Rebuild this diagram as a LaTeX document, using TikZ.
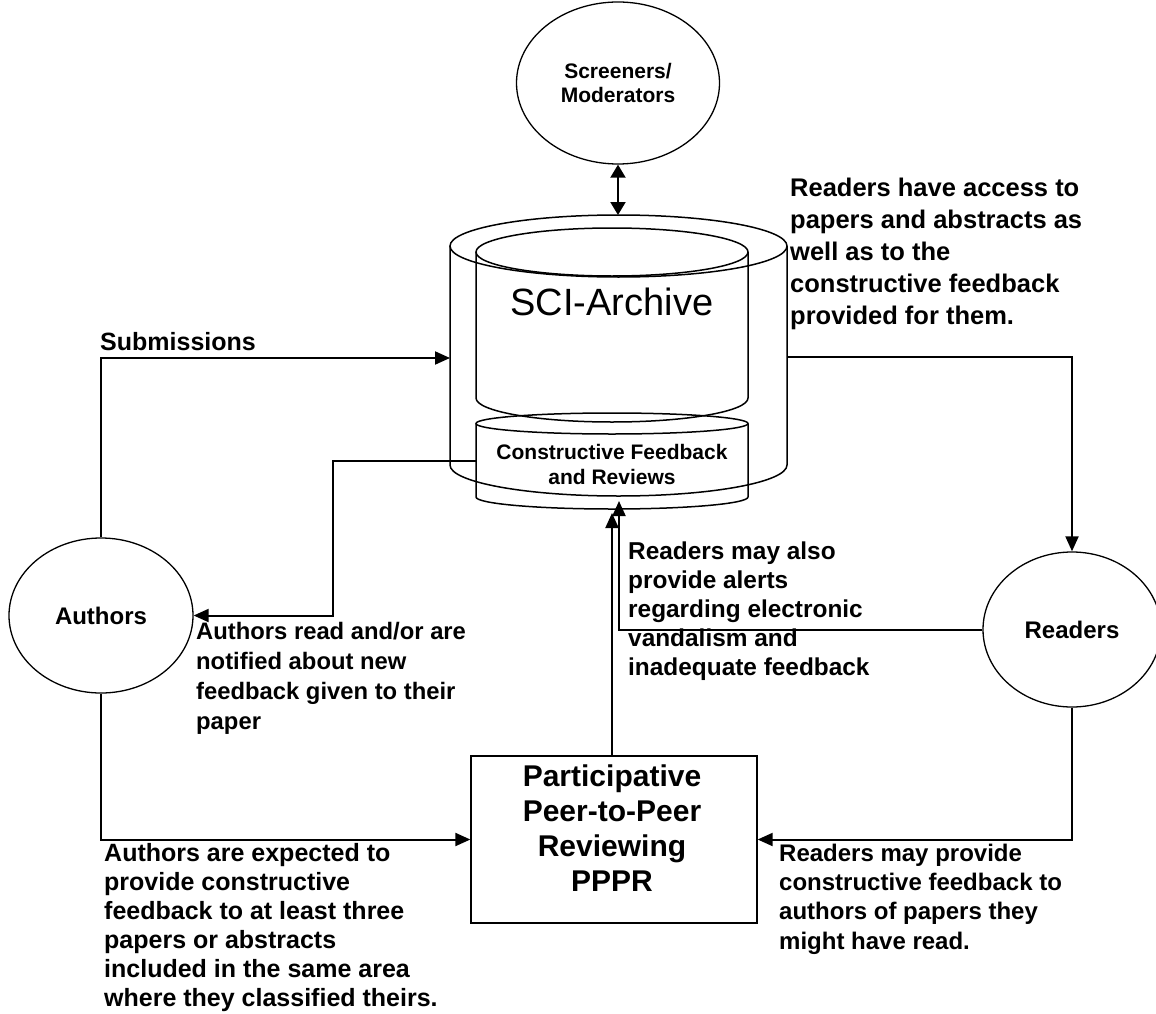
\documentclass[tikz,border=0pt]{standalone}
\usepackage{fontspec}
\setmainfont{Liberation Sans}
\usetikzlibrary{arrows.meta,shapes.geometric,calc}
\begin{document}
\begin{tikzpicture}[x=1pt,y=-1pt,
  cyl/.style={draw, line width=1.5pt},
  ell/.style={draw, ellipse, line width=1.3pt, inner sep=0pt, align=center},
  conn/.style={line width=2pt, -{Triangle[length=15pt,width=13pt]}},
  dconn/.style={line width=2pt, {Triangle[length=13pt,width=15pt]}-{Triangle[length=13pt,width=15pt]}},
  lab/.style={align=left, anchor=west, inner sep=0pt},
]
\useasboundingbox (0,0) rectangle (1156,1014);
\clip (0,0) rectangle (1156,1014);

% outer cylinder
\draw[cyl] (618.5,246) ellipse [x radius=168.5pt, y radius=31pt];
\draw[cyl] (450,246) -- (450,465) arc[start angle=180, end angle=360, x radius=168.5pt, y radius=31pt] -- (787,246);
% inner archive cylinder
\draw[cyl] (612,252) ellipse [x radius=136pt, y radius=24pt];
\draw[cyl] (476,252) -- (476,398) arc[start angle=180, end angle=360, x radius=136pt, y radius=24pt] -- (748,252);
% feedback cylinder
\draw[cyl] (612,423.5) ellipse [x radius=136pt, y radius=10.5pt];
\draw[cyl] (476,423.5) -- (476,497) arc[start angle=180, end angle=360, x radius=136pt, y radius=12pt] -- (748,423.5);

\node[font=\fontsize{38}{44}\selectfont, inner sep=0pt] (sci) at (612,302) {SCI-Archive};
\node[font=\bfseries\fontsize{21}{25}\selectfont, align=center, inner sep=0pt] (fbtext) at (612,464) {Constructive Feedback\\and Reviews};

% named connection points on the cylinders
\coordinate (archTop) at (618,215);
\coordinate (archL) at (450,358);
\coordinate (archR) at (787,357);
\coordinate (fbL) at (476,461);
\coordinate (fbcorner) at (333,461);
\coordinate (fbB1) at (612,513);
\coordinate (fbB2) at (619,501);

% ellipses
\node[ell, minimum width=203pt, minimum height=162pt, font=\bfseries\fontsize{21}{24}\selectfont] (screen) at (618,83) {Screeners/\\Moderators};
\node[ell, minimum width=184pt, minimum height=155pt, font=\bfseries\fontsize{24}{29}\selectfont] (authors) at (101,615.5) {Authors};
\node[ell, minimum width=178pt, minimum height=155pt, font=\bfseries\fontsize{24}{29}\selectfont] (readers) at (1072,629.5) {Readers};

% PPPR box
\node[draw, line width=1.3pt, minimum width=286pt, minimum height=167pt, inner sep=0pt] (pppr) at (614,839.5) {};
\node[font=\bfseries\fontsize{30}{35}\selectfont, align=center, inner sep=0pt] (ppprtext) at (612,828) {Participative\\Peer-to-Peer\\Reviewing\\PPPR};

% connectors
\draw[dconn] (screen.south) -- (archTop);
\draw[conn] (authors.north) |- (archL);
\draw[conn] (archR) -| (readers.north);
\draw[conn] (fbL) -- (fbcorner) |- (authors.east);
\draw[conn] (authors.south) |- (pppr.west);
\draw[conn] (readers.south) |- (pppr.east);
\draw[conn] (fbB1 |- pppr.north) -- (fbB1);
\draw[conn] (readers.west) -| (fbB2);

% labels
\node[lab, font=\bfseries\fontsize{25.5}{32}\selectfont] (t1) at (790,254) {Readers have access to\\papers and abstracts as\\well as to the\\constructive feedback\\provided for them.};
\node[lab, font=\bfseries\fontsize{25}{29}\selectfont] (t2) at (100,342) {Submissions};
\node[lab, font=\bfseries\fontsize{23.8}{30}\selectfont] (t3) at (196,678) {Authors read and/or are\\notified about new\\feedback given to their\\paper};
\node[lab, font=\bfseries\fontsize{24.4}{29}\selectfont] (t4) at (628,611.5) {Readers may also\\provide alerts\\regarding electronic\\vandalism and\\inadequate feedback};
\node[lab, font=\bfseries\fontsize{25}{29}\selectfont] (t5) at (104,927.5) {Authors are expected to\\provide constructive\\feedback to at least three\\papers or abstracts\\included in the same area\\where they classified theirs.};
\node[lab, font=\bfseries\fontsize{24}{29.3}\selectfont] (t6) at (779,899) {Readers may provide\\constructive feedback to\\authors of papers they\\might have read.};
\end{tikzpicture}
\end{document}
